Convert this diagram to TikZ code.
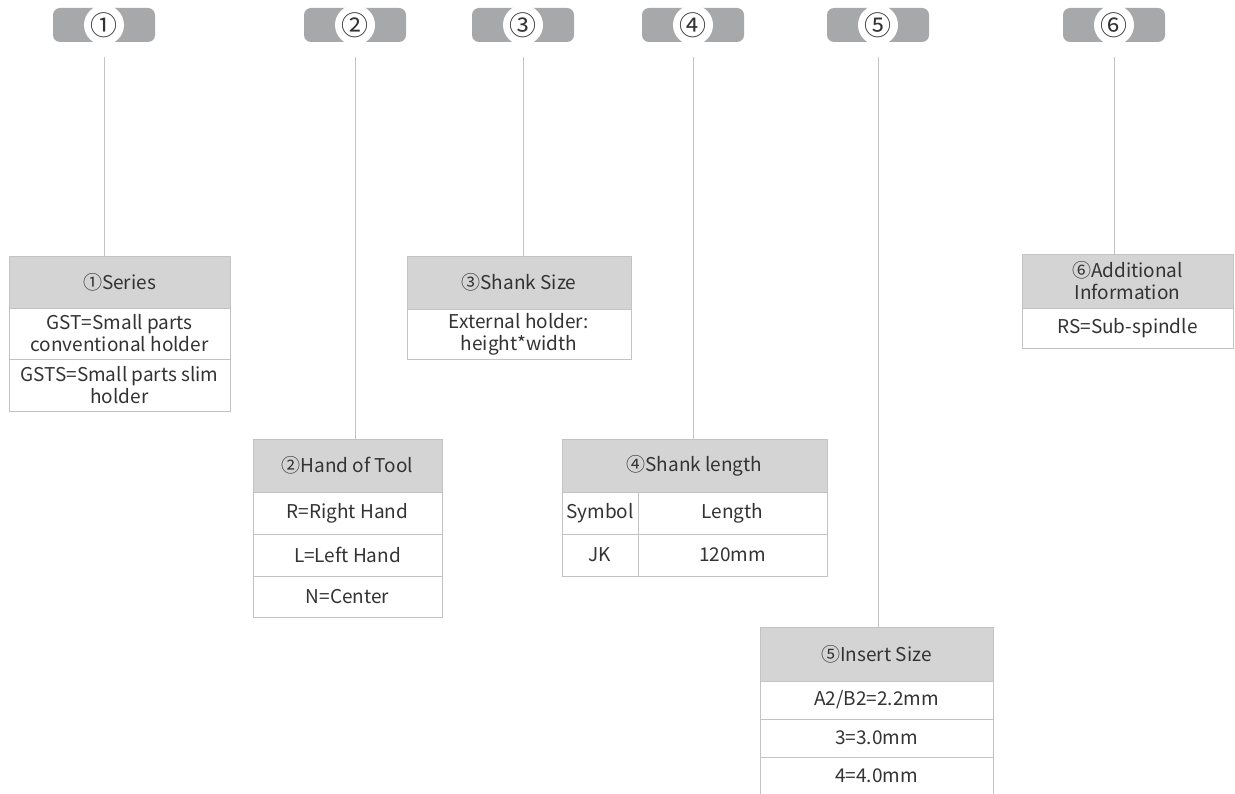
\documentclass[tikz,border=0pt]{standalone}
\usepackage{fontspec}
\setmainfont{Noto Sans CJK SC}
\usetikzlibrary{positioning}

\definecolor{tagfill}{HTML}{A7A8AA}
\definecolor{headfill}{HTML}{D4D4D4}
\definecolor{rulegray}{HTML}{C3C3C3}
\definecolor{ink}{HTML}{333333}

\begin{document}
\begin{tikzpicture}[x=1pt,y=-1pt,node distance=0pt,
  every node/.style={text=ink,font=\fontsize{19pt}{22pt}\selectfont,outer sep=0pt},
  badge/.style={rectangle,rounded corners=7pt,fill=tagfill,minimum width=102pt,minimum height=34pt},
  hole/.style={circle,fill=white,minimum size=40pt,inner sep=0pt,font=\fontsize{27pt}{27pt}\selectfont},
  head/.style={rectangle,draw=rulegray,fill=headfill,align=center,inner sep=0pt},
  cell/.style={rectangle,draw=rulegray,fill=white,align=center,inner sep=0pt},
  link/.style={draw=rulegray,line width=0.9pt}]
\useasboundingbox (0,0) rectangle (1235,794);

% code letters on top
\foreach \n/\x/\d in {1/104/①,2/355/②,3/523/③,4/693/④,5/878/⑤,6/1114/⑥}{
  \node[badge] (b\n) at (\x,25) {};
  \node[hole] (c\n) at (\x,25) {\d};
}

% 1 series
\node[head,minimum width=221pt,minimum height=52pt,anchor=north west] (h1) at (9,256) {①Series};
\node[cell,minimum width=221pt,minimum height=51pt,below=of h1] (r11) {GST=Small parts\\conventional holder};
\node[cell,minimum width=221pt,minimum height=52pt,below=of r11] (r12) {GSTS=Small parts slim\\holder};

% 2 hand of tool
\node[head,minimum width=189pt,minimum height=53pt,anchor=north west] (h2) at (253,439) {②Hand of Tool};
\node[cell,minimum width=189pt,minimum height=42pt,below=of h2] (r21) {R=Right Hand};
\node[cell,minimum width=189pt,minimum height=42pt,below=of r21] (r22) {L=Left Hand};
\node[cell,minimum width=189pt,minimum height=41pt,below=of r22] (r23) {N=Center};

% 3 shank size
\node[head,minimum width=224pt,minimum height=53pt,anchor=north west] (h3) at (407,256) {③Shank Size};
\node[cell,minimum width=224pt,minimum height=50pt,below=of h3] (r31) {External holder:\\height*width};

% 4 shank length
\node[head,minimum width=265pt,minimum height=53pt,anchor=north west] (h4) at (562,439) {④Shank length};
\node[cell,minimum width=76pt,minimum height=42pt,anchor=north west] (s41) at (h4.south west) {Symbol};
\node[cell,minimum width=189pt,minimum height=42pt,anchor=north west] (l41) at (s41.north east) {Length};
\node[cell,minimum width=76pt,minimum height=42pt,below=of s41] (s42) {JK};
\node[cell,minimum width=189pt,minimum height=42pt,below=of l41] (l42) {120mm};

% 5 insert size
\node[head,minimum width=233pt,minimum height=54pt,anchor=north west] (h5) at (760,627) {⑤Insert Size};
\node[cell,minimum width=233pt,minimum height=38pt,below=of h5] (r51) {A2/B2=2.2mm};
\node[cell,minimum width=233pt,minimum height=38pt,below=of r51] (r52) {3=3.0mm};
\node[cell,minimum width=233pt,minimum height=38pt,below=of r52] (r53) {4=4.0mm};

% 6 additional information
\node[head,minimum width=211pt,minimum height=54pt,anchor=north west] (h6) at (1022,254) {⑥Additional\\Information};
\node[cell,minimum width=211pt,minimum height=40pt,below=of h6] (r61) {RS=Sub-spindle};

% leader lines
\foreach \n in {1,...,6}
  \draw[link] ([yshift=-15pt]b\n.south) -- (b\n.south |- h\n.north);
\end{tikzpicture}
\end{document}
